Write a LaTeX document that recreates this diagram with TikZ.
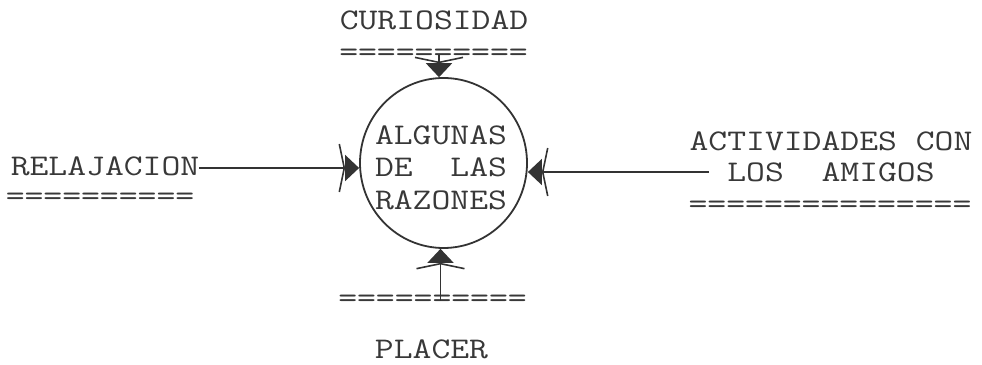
\documentclass[tikz,border=0pt]{standalone}
\usepackage{graphicx}
\usetikzlibrary{arrows.meta,shapes.geometric}
\newcommand\tw[1]{\scalebox{1.22}[1]{#1}}
\begin{document}
\begin{tikzpicture}[x=1pt,y=1pt,
  lbl/.style={inner sep=0pt, text=black!78, font=\ttfamily\fontsize{30}{32.5}\selectfont},
  eqline/.style={lbl},
  conn/.style={draw=black!80, line width=1.6pt,
    -{Straight Barb[length=5pt,width=48pt,line width=1.6pt] Triangle[length=14pt,width=26pt]}}]
\useasboundingbox (0,0) rectangle (982,364);
% centre circle
\node[draw=black!80, line width=1.8pt, ellipse, minimum width=167pt, minimum height=170pt, inner sep=0pt] (circ) at (443.5,201) {};
\node[lbl, align=center] (txt) at (441,196.5) {\tw{ALGUNAS}\\\tw{DE~~LAS}\\\tw{RAZONES}};
% top
\node[lbl] (cur) at (434,344) {\tw{CURIOSIDAD}};
\node[eqline] (eqcur) at (433.5,309) {\tw{==========}};
% left
\node[lbl] (rel) at (105,198) {\tw{RELAJACION}};
\node[eqline] (eqrel) at (100,165) {\tw{==========}};
% right
\node[lbl] (act1) at (831,223) {\tw{ACTIVIDADES CON}};
\node[lbl] (act2) at (831,191.5) {\tw{LOS~~AMIGOS}};
\node[eqline] (eqact) at (830,157) {\tw{===============}};
% bottom
\node[eqline] (eqpl) at (432.5,63) {\tw{==========}};
\node[lbl] (pl) at (431.5,15) {\tw{PLACER}};
% connectors
\draw[conn] (eqcur.center -| circ.93) -- (circ.93);
\draw[conn] (eqpl.center -| circ.-92) -- (circ.-92);
\draw[conn] ([yshift=-2pt]rel.east) -- ([yshift=-2pt]rel.east -| circ.west);
\draw[conn] ([xshift=-18pt,yshift=0.5pt]act2.west) -- ([yshift=0.5pt]act2.west -| circ.east);
\end{tikzpicture}
\end{document}
